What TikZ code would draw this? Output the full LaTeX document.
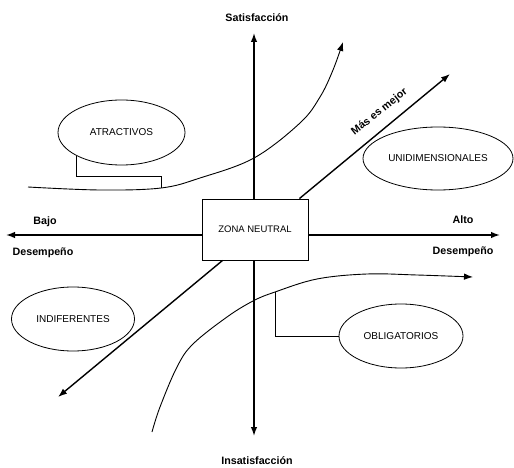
\documentclass[tikz,border=0pt]{standalone}
\usepackage{fontspec}
\setmainfont{Liberation Sans}
\usetikzlibrary{shapes.geometric,arrows.meta}
\begin{document}
\begin{tikzpicture}[x=1pt,y=-1pt,
  axis/.style={line width=1.4pt,-{Latex[length=9pt,width=6.5pt]}},
  curvearrow/.style={line width=0.9pt,-{Latex[length=9pt,width=6.5pt]}},
  lab/.style={font=\fontsize{10.7}{12}\selectfont\bfseries, inner sep=0pt},
  cat/.style={ellipse, draw, line width=0.8pt, inner sep=0pt, font=\fontsize{10}{12}\selectfont},
  link/.style={line width=0.9pt}
]
\useasboundingbox (0,0) rectangle (514,468);
% central box
\node[draw, line width=0.9pt, minimum width=106pt, minimum height=61pt, inner sep=0pt,
      font=\fontsize{9.5}{11}\selectfont] (box) at (255,229.5) {ZONA NEUTRAL};
% axis tips
\coordinate (wtip) at (6,235);
\coordinate (etip) at (500,235);
\coordinate (ntip) at (254,33);
\coordinate (stip) at (254,436);
\draw[axis] (box.west |- wtip) -- (wtip);
\draw[axis] (box.east |- etip) -- (etip);
\draw[axis] (box.north -| ntip) -- (ntip);
\draw[axis] (box.south -| stip) -- (stip);
% diagonal
\coordinate (netip) at (450,74);
\coordinate (swtip) at (58,397);
\coordinate (dne) at ([xshift=-9pt]box.north east);
\coordinate (dsw) at ([xshift=21pt]box.south west);
\draw[axis] (dne) -- (netip);
\draw[axis] (dsw) -- (swtip);
% labels
\node[lab] (sat) at (257,18) {Satisfacción};
\node[lab] (insat) at (257,461) {Insatisfacción};
\node[lab] (bajo) at (45,222) {Bajo};
\node[lab] (desL) at (43,253) {Desempeño};
\node[lab] (alto) at (463,220) {Alto};
\node[lab] (desR) at (463,252) {Desempeño};
\node[lab, rotate=38.5] (mas) at (379.5,112) {Más es mejor};
% categories
\node[cat, minimum width=127pt, minimum height=65pt] (atr) at (121.5,132.5) {ATRACTIVOS};
\node[cat, minimum width=150pt, minimum height=63pt] (uni) at (438,158.5) {UNIDIMENSIONALES};
\node[cat, minimum width=123pt, minimum height=64pt] (ind) at (73,319) {INDIFERENTES};
\node[cat, minimum width=124pt, minimum height=64pt] (obl) at (401,336) {OBLIGATORIOS};
% curves
\draw[curvearrow] plot[smooth, tension=0.6] coordinates {(28,187) (100,190) (161,188) (200,178) (254,158) (300,123) (320,97) (333,70) (343,42)};
\draw[curvearrow] plot[smooth, tension=0.6] coordinates {(152,432) (160,407) (177,367) (193,344) (227,317) (253,301) (275,292) (317,279) (367,274) (417,275) (473,277)};
% connectors
\coordinate (c1) at (161,176);
\coordinate (c2) at (161,188);
\coordinate (c3) at (275,292);
\draw[link] (atr.207.5) |- (c1) -- (c2);
\draw[link] (obl.west) -| (c3);
\end{tikzpicture}
\end{document}
